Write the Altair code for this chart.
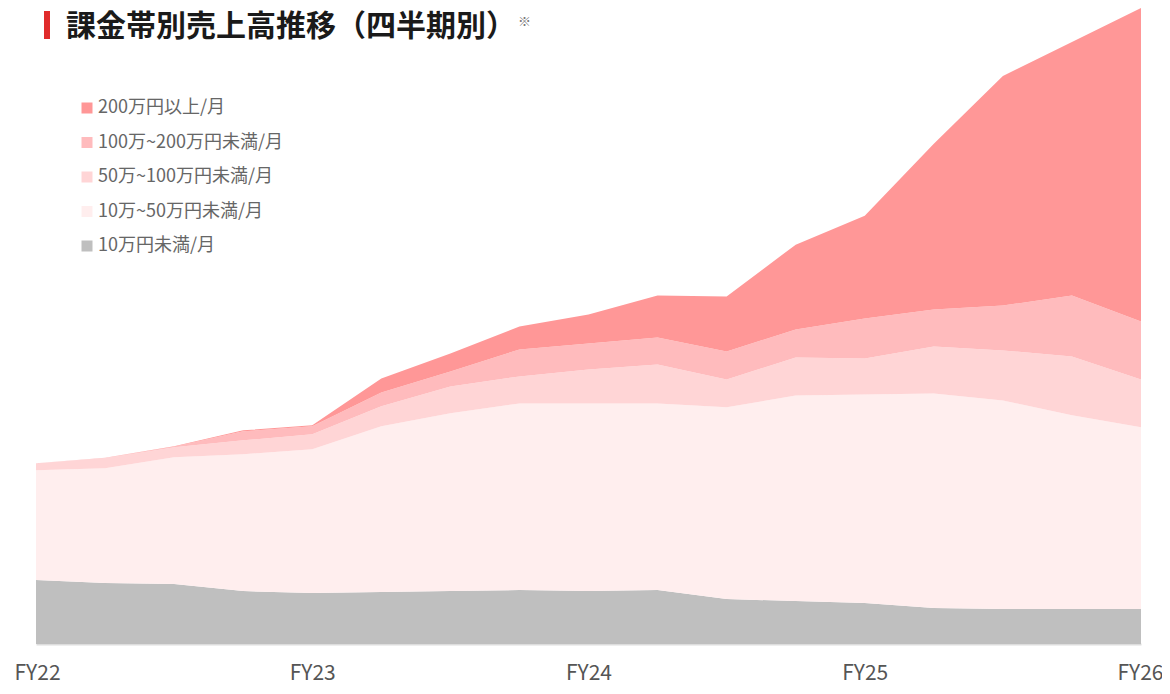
import json
import altair as alt
import pandas as pd

quarters = [
    "FY22 Q1", "FY22 Q2", "FY22 Q3", "FY22 Q4",
    "FY23 Q1", "FY23 Q2", "FY23 Q3", "FY23 Q4",
    "FY24 Q1", "FY24 Q2", "FY24 Q3", "FY24 Q4",
    "FY25 Q1", "FY25 Q2", "FY25 Q3", "FY25 Q4",
    "FY26 Q1",
]
tick_labels = ["FY22", "FY23", "FY24", "FY25", "FY26"]
tick_positions = [0, 4, 8, 12, 16]

series = [
    "10万円未満/月",
    "10万~50万円未満/月",
    "50万~100万円未満/月",
    "100万~200万円未満/月",
    "200万円以上/月",
]
colors = ["#BFBFBF", "#FFEEEE", "#FFD5D6", "#FFBBBD", "#FF9797"]

# relative revenue (no axis in the original)
under_10 = [64, 61, 60, 53, 51, 52, 53, 54, 53, 54, 45, 43, 41, 36, 35, 35, 35]
from_10_to_50 = [110, 115, 127, 137, 144, 166, 178, 187, 188, 187, 192, 206, 209, 215, 209, 194, 182]
from_50_to_100 = [7, 10, 10, 14, 15, 20, 27, 27, 34, 39, 28, 38, 36, 47, 50, 59, 48]
from_100_to_200 = [0, 0.5, 0.5, 9, 8, 14, 15, 27, 26, 27, 28, 28, 40, 37, 45, 61, 58]
over_200 = [0, 0, 0.5, 1, 1, 14, 18, 23, 29, 42, 55, 85, 103, 166, 230, 254, 314]

title_text = "課金帯別売上高推移（四半期別）"
note_text = "※"

all_values = [under_10, from_10_to_50, from_50_to_100, from_100_to_200, over_200]
rows = []
for s_i, (name, vals) in enumerate(zip(series, all_values)):
    for q_i, v in enumerate(vals):
        rows.append({"q": q_i, "quarter": quarters[q_i], "band": name,
                     "stack": s_i, "value": v})
df = pd.DataFrame(rows)

label_expr = json.dumps(tick_labels) + "[round(datum.value / 4)]"

area = alt.Chart(df).mark_area(interpolate="linear").encode(
    x=alt.X(
        "q:Q",
        scale=alt.Scale(domain=[0, 16], nice=False, zero=False),
        axis=alt.Axis(
            values=tick_positions,
            labelExpr=label_expr,
            ticks=False,
            grid=False,
            domainColor="#DDDDDD",
            domainWidth=2,
            labelFont="Noto Sans CJK JP",
            labelFontSize=21,
            labelColor="#555555",
            labelPadding=35,
            labelBaseline="alphabetic",
            labelFlush=True,
            labelFlushOffset=22,
            labelOverlap=False,
            title=None,
        ),
    ),
    y=alt.Y("value:Q", stack="zero",
            scale=alt.Scale(domain=[0, 637], nice=False), axis=None),
    color=alt.Color(
        "band:N",
        scale=alt.Scale(domain=series[::-1], range=colors[::-1]),
        legend=alt.Legend(
            title=None,
            orient="none",
            legendX=42,
            legendY=91,
            symbolType="square",
            symbolSize=121,
            symbolStrokeWidth=0,
            symbolOpacity=1,
            labelFont="Noto Sans CJK JP",
            labelFontSize=18,
            labelColor="#666666",
            labelOffset=2,
            labelLimit=400,
            rowPadding=16.5,
        ),
    ),
    order=alt.Order("stack:Q", sort="ascending"),
    tooltip=["quarter:N", "band:N", "value:Q"],
)

one = pd.DataFrame({"t": [title_text], "n": [note_text]})

bar = alt.Chart(one).mark_rect(color="#E02B2B").encode(
    x=alt.value(8), x2=alt.value(14), y=alt.value(3), y2=alt.value(31)
)

title = alt.Chart(one).mark_text(
    align="left", baseline="alphabetic", font="Noto Sans CJK JP",
    fontSize=30, fontWeight="bold", color="#1A1A1A"
).encode(text="t:N", x=alt.value(30), y=alt.value(28))

note = alt.Chart(one).mark_text(
    align="left", baseline="alphabetic", font="Noto Sans CJK JP",
    fontSize=13, color="#777777"
).encode(text="n:N", x=alt.value(482), y=alt.value(18))

chart = alt.layer(area, bar, title, note).properties(
    width=1105,
    height=636,
    padding={"left": 28, "top": 0, "right": 21, "bottom": 42},
    autosize=alt.AutoSizeParams(type="none"),
).configure_view(strokeWidth=0)

chart.save("out.html", embed_options={"renderer": "svg", "actions": False})
